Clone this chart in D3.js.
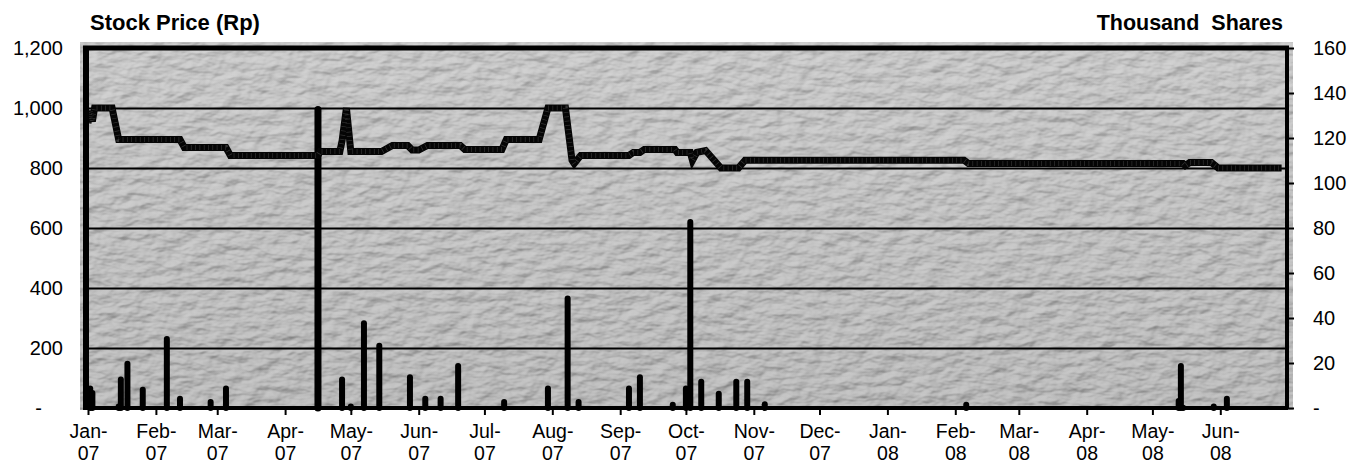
<!DOCTYPE html>
<html><head><meta charset="utf-8">
<script src="https://cdn.jsdelivr.net/npm/d3@7"></script>
<style>
body{margin:0;background:#fff}
svg{display:block}
text{font-family:"Liberation Sans",Arial,Helvetica,sans-serif;fill:#000}
</style></head>
<body><svg id="c" width="1360" height="463"></svg>
<script>
// ---- data ----
const priceDates = ["2007-01-01","2007-01-02","2007-01-03","2007-01-04","2007-01-12","2007-01-15","2007-02-12","2007-02-14","2007-03-05","2007-03-07","2007-04-16","2007-04-17","2007-04-26","2007-04-27","2007-04-29","2007-05-01","2007-05-15","2007-05-20","2007-05-27","2007-05-29","2007-06-01","2007-06-05","2007-06-20","2007-06-22","2007-07-09","2007-07-11","2007-07-26","2007-07-30","2007-08-07","2007-08-10","2007-08-11","2007-08-14","2007-09-05","2007-09-07","2007-09-10","2007-09-12","2007-09-26","2007-09-27","2007-10-03","2007-10-04","2007-10-06","2007-10-10","2007-10-11","2007-10-17","2007-10-25","2007-10-28","2008-02-05","2008-02-07","2008-05-15","2008-05-16","2008-05-18","2008-05-28","2008-05-31","2008-06-29"];
const priceValues = [950,990,955,1000,1000,895,895,868,868,842,842,855,855,890,1000,855,855,875,875,860,860,875,875,862,862,895,895,1000,1000,826,815,842,842,852,852,862,862,852,852,825,852,858,850,800,800,826,826,815,815,808,818,818,800,800];

const volumeDates = ["2007-01-02","2007-01-03","2007-01-15","2007-01-16","2007-01-19","2007-01-26","2007-02-06","2007-02-12","2007-02-26","2007-03-05","2007-04-16","2007-04-27","2007-05-01","2007-05-07","2007-05-14","2007-05-28","2007-06-04","2007-06-11","2007-06-19","2007-07-10","2007-07-30","2007-08-08","2007-08-13","2007-09-05","2007-09-10","2007-09-25","2007-10-01","2007-10-03","2007-10-08","2007-10-16","2007-10-24","2007-10-29","2007-11-06","2008-02-06","2008-05-13","2008-05-14","2008-05-15","2008-05-29","2008-06-04"];
const volumeValues = [10,8,2,14,21,9.5,32,5.5,4,10,134,14,2,39,29,15,5.5,5.5,20,4,10,50,4,10,15,2.8,10,84,13,7.7,13,13,3,2.8,4.4,20,1.5,2,5.5];

const leftTicks = [0,200,400,600,800,1000,1200];
const leftTickLabels = ["-","200","400","600","800","1,000","1,200"];
const rightTicks = [0,20,40,60,80,100,120,140,160];
const rightTickLabels = ["-","20","40","60","80","100","120","140","160"];
const monthTicks = ["2007-01-01","2007-02-01","2007-03-01","2007-04-01","2007-05-01","2007-06-01","2007-07-01","2007-08-01","2007-09-01","2007-10-01","2007-11-01","2007-12-01","2008-01-01","2008-02-01","2008-03-01","2008-04-01","2008-05-01","2008-06-01"];
const monthLabels = ["Jan-07","Feb-07","Mar-07","Apr-07","May-07","Jun-07","Jul-07","Aug-07","Sep-07","Oct-07","Nov-07","Dec-07","Jan-08","Feb-08","Mar-08","Apr-08","May-08","Jun-08"];
const leftTitle = "Stock Price (Rp)";
const rightTitle = "Thousand  Shares";

// ---- drawing ----
const parse = d3.utcParse("%Y-%m-%d");
const svg = d3.select("#c");
const L = 87, R = 1287, T = 48, B = 408;

const x = d3.scaleUtc().domain([parse("2007-01-01"), parse("2008-07-01")]).range([L+1, R-1]);
const yL = d3.scaleLinear().domain([0,1200]).range([B, T]);
const yR = d3.scaleLinear().domain([0,160]).range([B, T]);

// texture filter
const defs = svg.append("defs");
const f = defs.append("filter").attr("id","tex").attr("x",0).attr("y",0).attr("width",1).attr("height",1);
f.append("feTurbulence").attr("type","fractalNoise").attr("baseFrequency","0.05 0.1").attr("numOctaves",3).attr("seed",11).attr("result","noise");
const dl = f.append("feDiffuseLighting").attr("in","noise").attr("lighting-color","#ffffff").attr("surfaceScale",3.5).attr("result","light");
dl.append("feDistantLight").attr("azimuth",235).attr("elevation",50);
f.append("feComposite").attr("in","light").attr("in2","SourceGraphic").attr("operator","arithmetic")
  .attr("k1",0).attr("k2",0.4).attr("k3",1).attr("k4",-0.31);

const grad = defs.append("linearGradient").attr("id","bg").attr("x1",0).attr("y1",0).attr("x2",0).attr("y2",1);
grad.append("stop").attr("offset","0%").attr("stop-color","#c6c6c6");
grad.append("stop").attr("offset","100%").attr("stop-color","#b8b8b8");

svg.append("rect").attr("x",80).attr("y",42).attr("width",1213).attr("height",368)
  .attr("fill","url(#bg)").attr("filter","url(#tex)");

// gridlines
const gridG = svg.append("g").attr("transform",`translate(${L},0)`)
  .call(d3.axisLeft(yL).tickValues([200,400,600,800,1000]).tickSize(-(R-L)).tickFormat(""));
gridG.select(".domain").remove();
gridG.selectAll("line").attr("stroke","#000").attr("stroke-width",2);

// volume bars
const vol = volumeDates.map((d,i)=>({date:parse(d), v:volumeValues[i]}));
svg.append("g").selectAll("line").data(vol).join("line")
  .attr("x1",d=>x(d.date)).attr("x2",d=>x(d.date))
  .attr("y1",yR(0)).attr("y2",d=>Math.min(yR(0), yR(d.v)+3))
  .attr("stroke","#000").attr("stroke-width",d=>d.v>100?7:6).attr("stroke-linecap","round");

// price line
const price = priceDates.map((d,i)=>({date:parse(d), p:priceValues[i]}));
const line = d3.line().x(d=>x(d.date)).y(d=>yL(d.p));
svg.append("path").datum(price).attr("d",line)
  .attr("fill","none").attr("stroke","#050505").attr("stroke-width",7).attr("stroke-linejoin","miter");
svg.append("path").datum(price).attr("d",line)
  .attr("fill","none").attr("stroke","#333").attr("stroke-width",5).attr("stroke-dasharray","0.7 3.6");

// frame
svg.append("line").attr("x1",83).attr("x2",R+2).attr("y1",T).attr("y2",T).attr("stroke","#000").attr("stroke-width",5);
svg.append("line").attr("x1",L-1).attr("x2",L-1).attr("y1",T-2).attr("y2",B+2).attr("stroke","#000").attr("stroke-width",6);
svg.append("line").attr("x1",R).attr("x2",R).attr("y1",T-2).attr("y2",B+1).attr("stroke","#000").attr("stroke-width",4);

// bottom axis
const xa = svg.append("g").attr("transform",`translate(0,${B})`)
  .call(d3.axisBottom(x).tickValues(monthTicks.map(parse)).tickSize(7).tickFormat((d,i)=>monthLabels[i]));
xa.select(".domain").attr("d",`M${L-3},0H${R+1}`).attr("stroke","#000").attr("stroke-width",4);
xa.selectAll(".tick line").attr("stroke","#000").attr("stroke-width",2);
xa.selectAll(".tick text").each(function(d,i){
  const parts = monthLabels[i].split("-");
  const t = d3.select(this).text(null).attr("y",null).attr("dy",null)
    .style("font-size","19.5px").attr("fill","#000");
  t.append("tspan").attr("x",0).attr("y",30).text(parts[0]+"-");
  t.append("tspan").attr("x",0).attr("y",52).text(parts[1]);
});

// left axis
const la = svg.append("g").attr("transform",`translate(${L},0)`)
  .call(d3.axisLeft(yL).tickValues(leftTicks).tickSize(0).tickPadding(24).tickFormat((d,i)=>leftTickLabels[i]));
la.select(".domain").remove();
la.selectAll(".tick text").style("font-size","20px").attr("fill","#000");
la.selectAll(".tick text").filter(d=>d===0).attr("x",-45);

// right axis
const ra = svg.append("g").attr("transform",`translate(${R},0)`)
  .call(d3.axisRight(yR).tickValues(rightTicks).tickSize(7).tickPadding(19).tickFormat((d,i)=>rightTickLabels[i]));
ra.select(".domain").remove();
ra.selectAll(".tick line").attr("stroke","#000").attr("stroke-width",2);
ra.selectAll(".tick text").style("font-size","20px").attr("fill","#000");

// titles
svg.append("text").attr("x",90).attr("y",30).style("font-size","22px").style("font-weight","bold").text(leftTitle);
svg.append("text").attr("x",1283).attr("y",30).attr("text-anchor","end").style("font-size","21.5px").style("font-weight","bold")
  .style("white-space","pre").text(rightTitle);
</script></body></html>
